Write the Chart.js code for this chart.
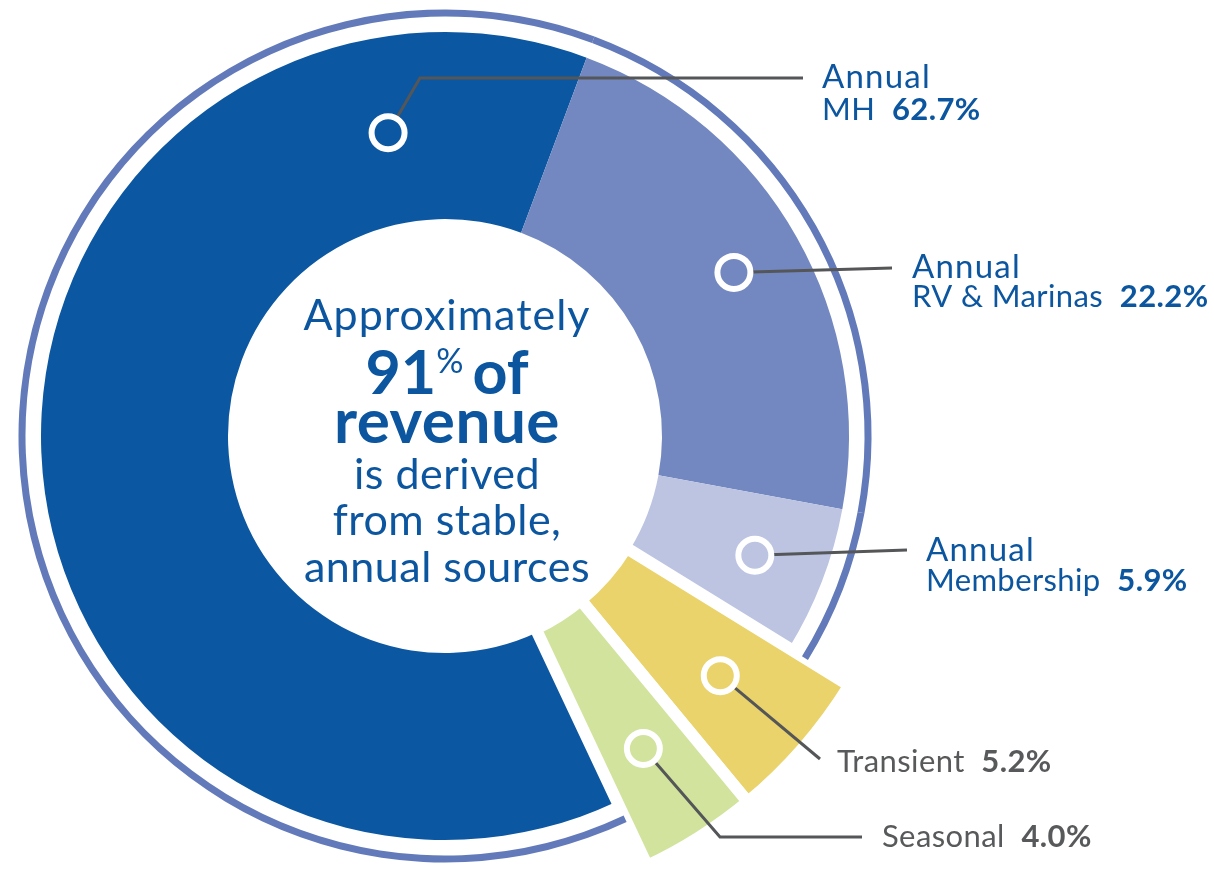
<!DOCTYPE html>
<html>
<head>
<meta charset="utf-8">
<script src="https://cdn.jsdelivr.net/npm/chart.js@4.4.1/dist/chart.umd.min.js"></script>
<style>
  html, body { margin: 0; padding: 0; background: #fff; }
  #wrap { width: 1214px; height: 877px; position: relative; }
</style>
</head>
<body>
<div id="wrap"><canvas id="revenueChart"></canvas></div>
<script>
// revenue mix, share of total (%)
const categories = ['Annual MH', 'Annual RV & Marinas', 'Annual Membership', 'Transient', 'Seasonal'];
const shares = [62.7, 22.2, 5.9, 5.2, 4.0];
const labelHead = ['Annual', 'Annual', 'Annual', '', ''];
const labelName = ['MH', 'RV & Marinas', 'Membership', 'Transient', 'Seasonal'];
const isAnnual = [true, true, true, false, false];
const stableShare = '91';

const sliceColors = ['#0c57a1', '#7388c0', '#bcc4e2', '#e9d36a', '#d1e39d'];
const ringColor = '#627ab9';
const blueText = '#0c56a0';
const greyText = '#58595b';

// where the little rings sit inside each slice (fraction of angle / of thickness)
const markerAngle = [0.862, 0.5, 0.5, 0.5, 0.5];
const markerDepth = [0.49, 0.615, 0.615, 0.58, 0.6];
// leader bends and label anchors
const leaders = [
  { bends: [[420, 78], [803, 78]], x: 822, y1: 88, y2: 120 },
  { bends: [[892, 268]], x: 912, y1: 278, y2: 307 },
  { bends: [[907, 550]], x: 926, y1: 561, y2: 591 },
  { bends: [[820, 759]], x: 837, y1: 772 },
  { bends: [[720, 837], [862, 837]], x: 882, y1: 847 }
];

const MAIN = 2;

// transient / seasonal stick out past the ring
const explodePlugin = {
  id: 'explode',
  afterDatasetUpdate(chart, args) {
    if (args.index !== MAIN) return;
    args.meta.data.forEach((arc, i) => {
      if (!isAnnual[i]) {
        arc.outerRadius += 71;
        arc.innerRadius -= 4;
      }
    });
  }
};

function spaced(ctx, px) {
  if ('letterSpacing' in ctx) ctx.letterSpacing = px + 'px';
}

const labelPlugin = {
  id: 'labels',
  afterDatasetsDraw(chart) {
    const ctx = chart.ctx;
    const arcs = chart.getDatasetMeta(MAIN).data;
    ctx.save();
    arcs.forEach((arc, i) => {
      const a = arc.startAngle + markerAngle[i] * (arc.endAngle - arc.startAngle);
      const r = arc.innerRadius + markerDepth[i] * (arc.outerRadius - arc.innerRadius);
      const mx = arc.x + r * Math.cos(a);
      const my = arc.y + r * Math.sin(a);

      ctx.beginPath();
      ctx.moveTo(mx, my);
      leaders[i].bends.forEach(p => ctx.lineTo(p[0], p[1]));
      ctx.strokeStyle = '#555658';
      ctx.lineWidth = 3;
      ctx.stroke();

      ctx.beginPath();
      ctx.arc(mx, my, 16.5, 0, Math.PI * 2);
      ctx.fillStyle = sliceColors[i];
      ctx.fill();
      ctx.strokeStyle = '#ffffff';
      ctx.lineWidth = 6;
      ctx.stroke();

      const L = leaders[i];
      const val = shares[i].toFixed(1) + '%';
      ctx.textAlign = 'left';
      ctx.textBaseline = 'alphabetic';
      const y = isAnnual[i] ? L.y2 : L.y1;
      ctx.fillStyle = isAnnual[i] ? blueText : greyText;
      if (isAnnual[i]) {
        spaced(ctx, 1.2);
        ctx.font = '33px Lato';
        ctx.fillText(labelHead[i], L.x, L.y1);
      }
      spaced(ctx, 0.4);
      ctx.font = '31px Lato';
      const name = labelName[i] + '  ';
      ctx.fillText(name, L.x, y);
      const w = ctx.measureText(name).width;
      ctx.font = 'bold 31px Lato';
      ctx.fillText(val, L.x + w, y);
    });

    // centre statement
    const cx = arcs[0].x + 2, cy = arcs[0].y;
    ctx.fillStyle = blueText;
    ctx.textAlign = 'center';
    spaced(ctx, 1);
    ctx.font = '43px Lato';
    ctx.fillText('Approximately', cx, cy - 106);

    spaced(ctx, 0);
    ctx.font = 'bold 61px Lato';
    const w91 = ctx.measureText(stableShare).width;
    const wOf = ctx.measureText('of').width;
    ctx.font = '34px Lato';
    const wPct = ctx.measureText('%').width;
    const total = w91 + wPct + 9 + wOf;
    let x = cx - total / 2;
    ctx.textAlign = 'left';
    ctx.font = 'bold 61px Lato';
    ctx.fillText(stableShare, x, cy - 42);
    x += w91;
    ctx.font = '34px Lato';
    ctx.fillText('%', x, cy - 63);
    x += wPct + 9;
    ctx.font = 'bold 61px Lato';
    ctx.fillText('of', x, cy - 42);

    ctx.textAlign = 'center';
    spaced(ctx, 0.5);
    ctx.font = 'bold 62px Lato';
    ctx.fillText('revenue', cx, cy + 7);
    ctx.font = '43px Lato';
    ctx.fillText('is derived', cx, cy + 53);
    ctx.fillText('from stable,', cx, cy + 99);
    ctx.fillText('annual sources', cx, cy + 146);
    ctx.restore();
  }
};

const ringColors = isAnnual.map(a => a ? ringColor : 'rgba(0,0,0,0)');
const clear = shares.map(() => 'rgba(0,0,0,0)');

new Chart(document.getElementById('revenueChart').getContext('2d'), {
  type: 'doughnut',
  data: {
    labels: categories,
    datasets: [
      { data: shares, backgroundColor: ringColors, borderWidth: 0, weight: 7, clip: false },
      { data: shares, backgroundColor: clear, borderWidth: 0, weight: 15.5, clip: false },
      {
        data: shares,
        backgroundColor: sliceColors,
        borderColor: '#ffffff',
        borderWidth: isAnnual.map(a => a ? 0 : 12),
        weight: 187,
        clip: false
      }
    ]
  },
  options: {
    responsive: true,
    maintainAspectRatio: false,
    animation: false,
    events: [],
    rotation: 154.8,
    radius: 426.5,
    cutout: '50.88%',
    layout: { padding: { left: 0, right: 324, top: 0, bottom: 5 } },
    plugins: { legend: { display: false }, tooltip: { enabled: false } }
  },
  plugins: [explodePlugin, labelPlugin]
});
</script>
</body>
</html>
